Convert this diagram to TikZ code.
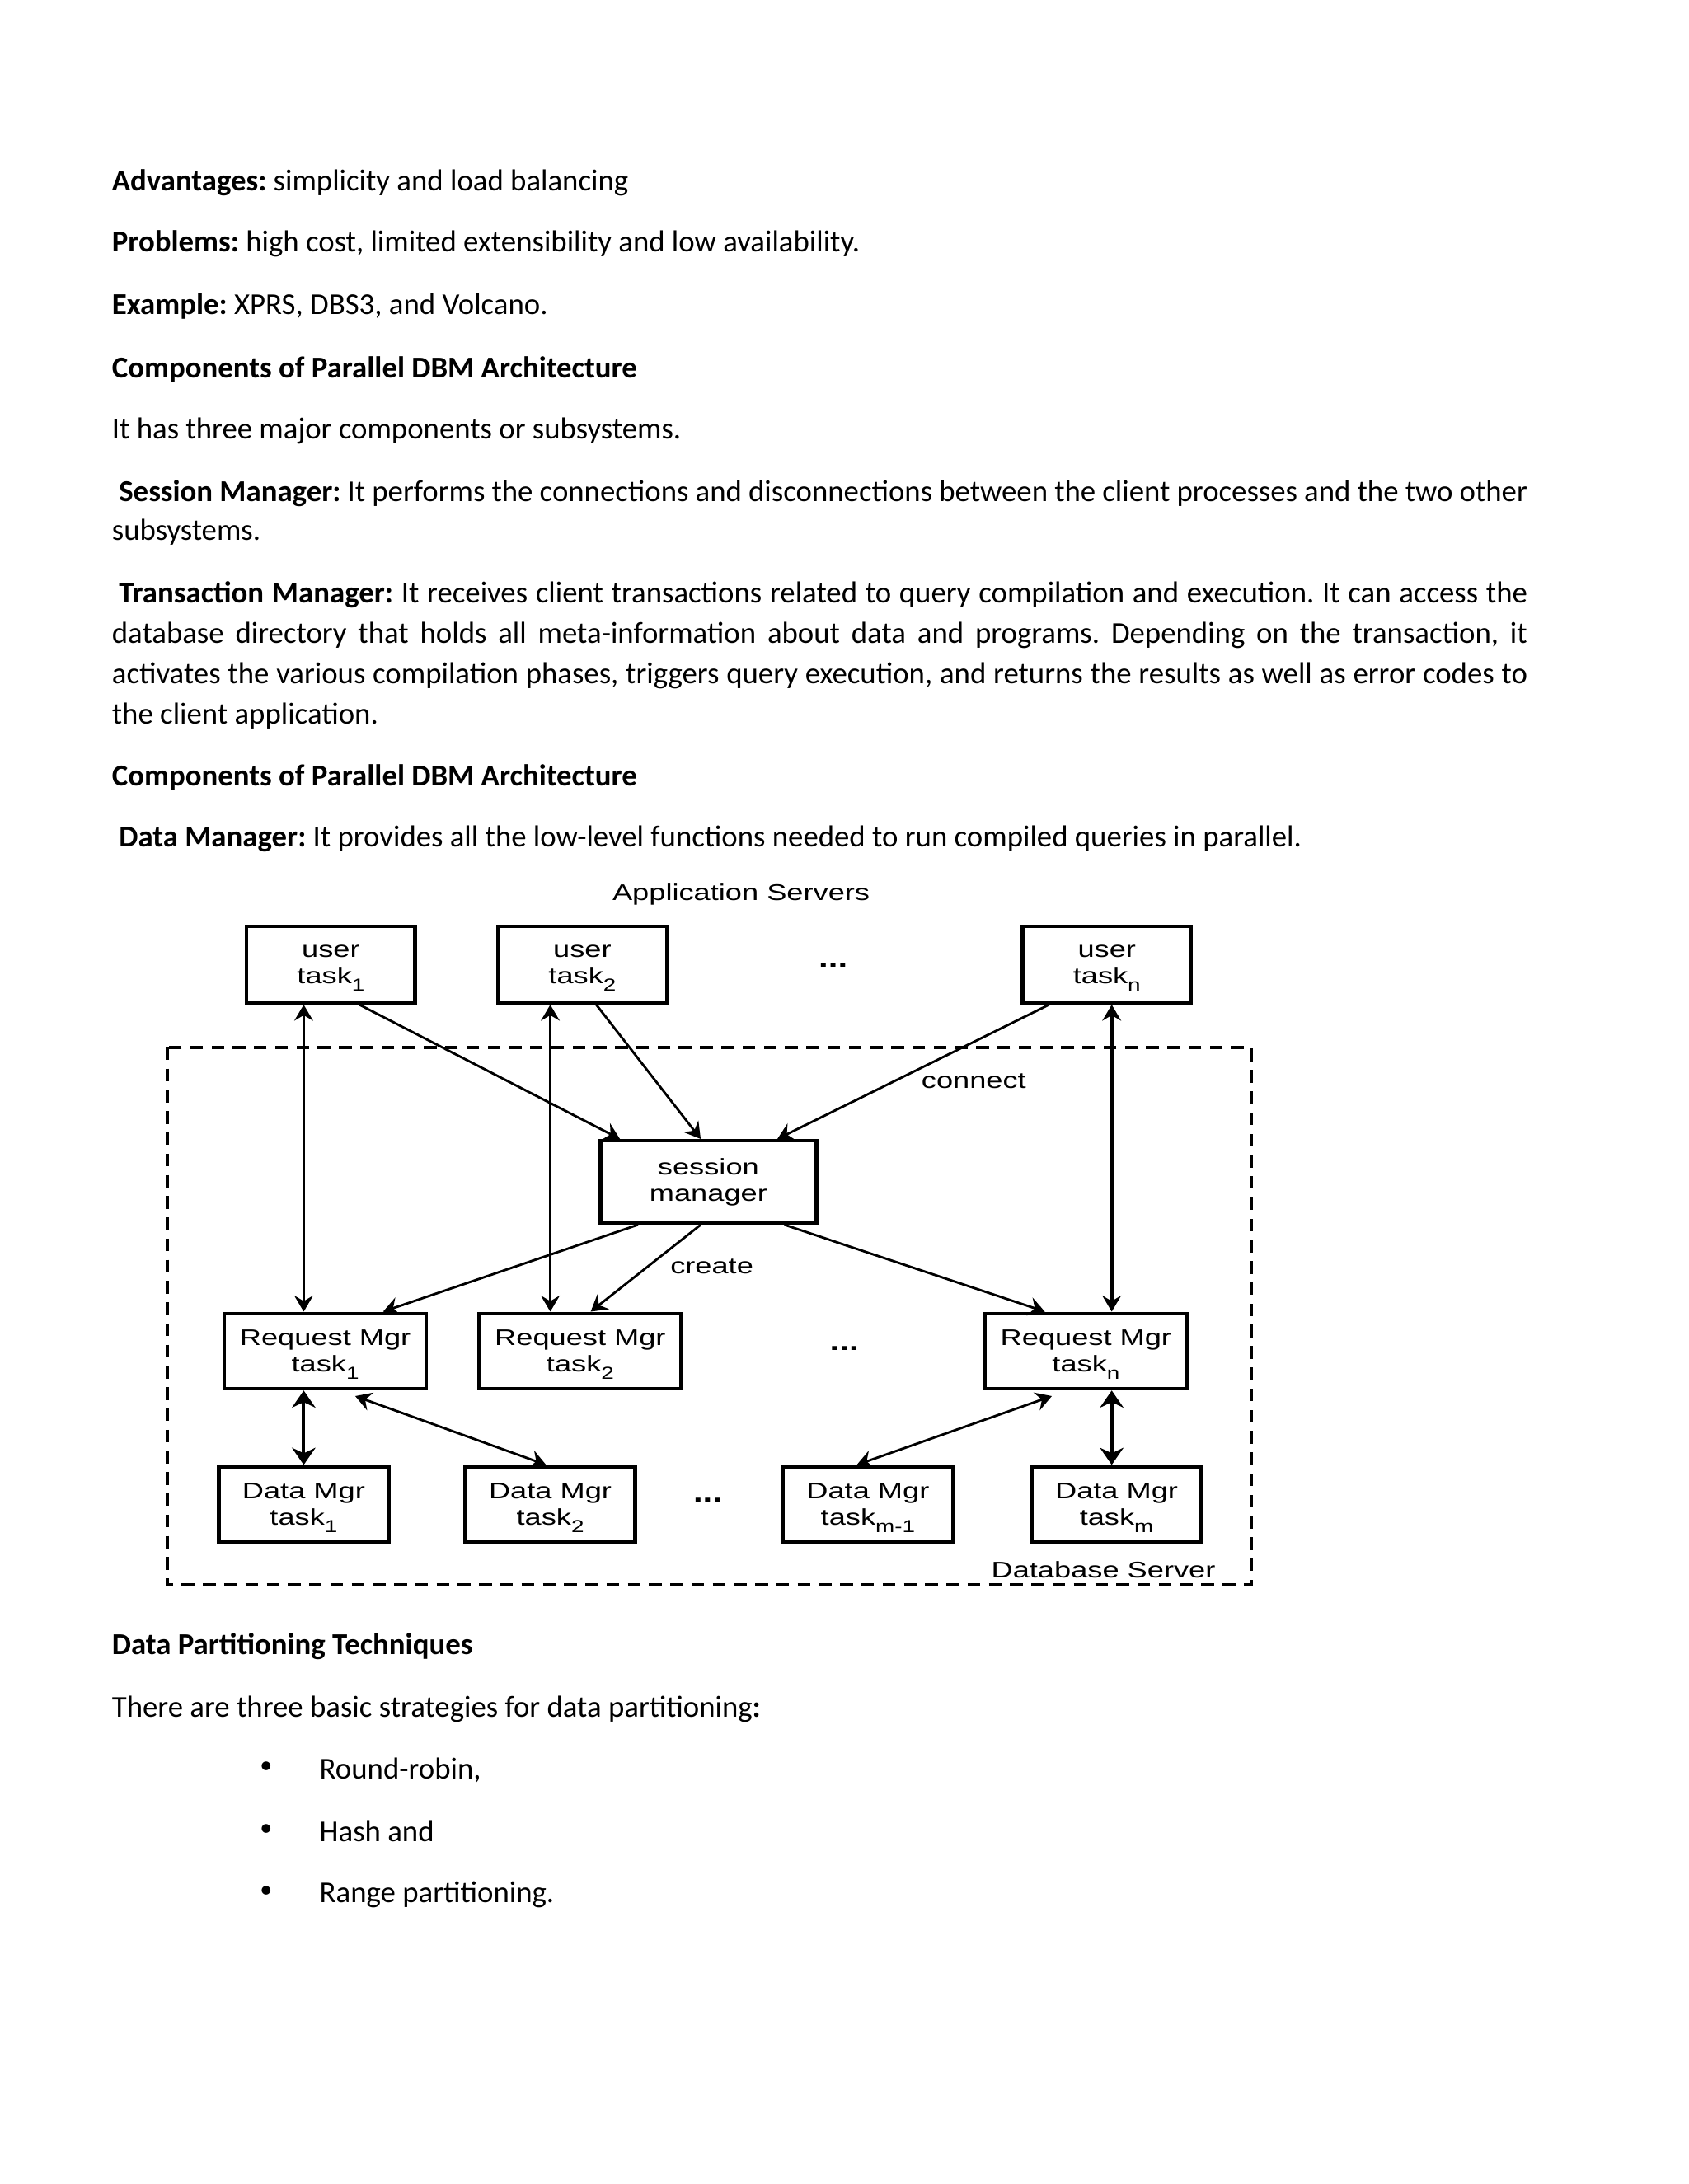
\documentclass[tikz,border=0pt]{standalone}
\usepackage{fontspec}
\setmainfont{Carlito}
\newfontfamily\diagfont[FakeStretch=1.32]{Liberation Sans}
\usetikzlibrary{arrows.meta,positioning,calc}
\newcommand\tsub[1]{\raisebox{-2.8pt}[0pt][0pt]{\fontsize{6.3}{6.3}\selectfont #1}}
\frenchspacing

\begin{document}
\begin{tikzpicture}[x=0.505pt,y=-0.505pt,
    txt/.style={anchor=base west,inner sep=0pt,font=\fontsize{11}{14.5}\selectfont},
    box/.style={draw,line width=1.3pt,inner sep=0pt,align=center,font=\diagfont\fontsize{8.2}{9.5}\selectfont},
    usr/.style={box,minimum width=61.1pt,minimum height=27.8pt},
    reqm/.style={box,minimum width=73.2pt,minimum height=27.3pt},
    datm/.style={box,minimum width=61.6pt,minimum height=27.3pt},
    lbl/.style={inner sep=0pt,font=\diagfont\fontsize{8.2}{9.5}\selectfont},
    dots/.style={inner sep=0pt,font=\diagfont\bfseries\fontsize{9.5}{9.5}\selectfont},
    conn/.style={line width=0.85pt,-{Stealth[length=5.8pt,width=6.8pt,inset=2pt]}},
    biconn/.style={line width=0.85pt,{Stealth[length=5.8pt,width=6.8pt,inset=2pt]}-{Stealth[length=5.8pt,width=6.8pt,inset=2pt]}},
    vlink/.style={line width=1.1pt,{Stealth[length=5.8pt,width=6.8pt,inset=2pt]}-{Stealth[length=5.8pt,width=6.8pt,inset=2pt]}},
    thick link/.style={line width=1.2pt,{Stealth[length=6.2pt,width=8.5pt,inset=2pt]}-{Stealth[length=6.2pt,width=8.5pt,inset=2pt]}},
    frame/.style={line width=1.1pt,dash pattern=on 4.6pt off 3.1pt}]

    % page
    \fill[white] (0,0) rectangle (1212,1568);
    \useasboundingbox (0,0) rectangle (1212,1568);

    % text above the figure
    \node[txt] (adv) at (80,137) {\textbf{Advantages:} simplicity and load balancing};
    \node[txt] (prob) at (80,181) {\textbf{Problems:} high cost, limited extensibility and low availability.};
    \node[txt] (exmp) at (80,226) {\textbf{Example:} XPRS, DBS3, and Volcano.};
    \node[txt] (comp1) at (80,271) {\textbf{Components of Parallel DBM Architecture}};
    \node[txt] (three) at (80,315) {It has three major components or subsystems.};
    \node[txt] (sess1) at (85,360) {\makebox[510.6pt][s]{\textbf{Session Manager:} It performs the connections and disconnections between the client processes and the two other}};
    \node[txt] (sess2) at (80,388) {subsystems.};
    \node[txt] (tran1) at (85,433) {\makebox[510.6pt][s]{\textbf{Transaction Manager:} It receives client transactions related to query compilation and execution. It can access the}};
    \node[txt] (tran2) at (80,462) {\makebox[513.1pt][s]{database directory that holds all meta-information about data and programs. Depending on the transaction, it}};
    \node[txt] (tran3) at (80,491) {\makebox[513.1pt][s]{activates the various compilation phases, triggers query execution, and returns the results as well as error codes to}};
    \node[txt] (tran4) at (80,520) {the client application.};
    \node[txt] (comp2) at (80,564) {\textbf{Components of Parallel DBM Architecture}};
    \node[txt] (dman) at (85,608) {\textbf{Data Manager:} It provides all the low-level functions needed to run compiled queries in parallel.};

    % Application servers
    \node[lbl] (appsrv) at (532,642) {Application Servers};
    \node[usr] (ut1) at (237.5,692.5) {user\\task\tsub{1}};
    \node[usr] (ut2) at (418,692.5) {user\\task\tsub{2}};
    \node[dots] (udots) at (598,693) {...};
    \node[usr] (utn) at (794.5,692.5) {user\\task\tsub{n}};

    % Database server
    \draw[frame] (120,752) rectangle (898,1138);
    \node[box,minimum width=78.3pt,minimum height=29.8pt] (sm) at (508.5,848.5) {session\\manager};
    \node[reqm] (rm1) at (233.5,970) {Request Mgr\\task\tsub{1}};
    \node[reqm] (rm2) at (416.5,970) {Request Mgr\\task\tsub{2}};
    \node[dots] (rdots) at (606,968) {...};
    \node[reqm] (rmn) at (779.5,970) {Request Mgr\\task\tsub{n}};
    \node[datm] (dm1) at (218,1080) {Data Mgr\\task\tsub{1}};
    \node[datm] (dm2) at (395,1080) {Data Mgr\\task\tsub{2}};
    \node[dots] (ddots) at (508,1077) {...};
    \node[datm] (dmm1) at (623,1080) {Data Mgr\\task\tsub{m-1}};
    \node[datm] (dmm) at (801.5,1080) {Data Mgr\\task\tsub{m}};
    \node[lbl] (dbsrv) at (792,1127) {Database Server};
    \node[lbl] (connlbl) at (699,776) {connect};
    \node[lbl] (crealbl) at (511,909) {create};

    % user tasks <-> request managers
    \draw[vlink] ($(ut1.south)+(-19.5,0)$) coordinate (v1) -- (v1 |- rm1.north);
    \draw[vlink] ($(ut2.south)+(-23,0)$) coordinate (v2) -- (v2 |- rm2.north);
    \draw[vlink] ($(utn.south)+(3.5,0)$) coordinate (vn) -- (vn |- rmn.north);

    % connect
    \draw[conn] ($(ut1.south)+(20.5,0)$) -- ($(sm.north)+(-63.5,0)$);
    \draw[conn] ($(ut2.south)+(10,0)$) -- ($(sm.north)+(-5.5,0)$);
    \draw[conn] ($(utn.south)+(-41.5,0)$) -- ($(sm.north)+(49.5,0)$);

    % create
    \draw[conn] ($(sm.south)+(-50.5,0)$) -- ($(rm1.north)+(41.5,0)$);
    \draw[conn] ($(sm.south)+(-5.5,0)$) -- ($(rm2.north)+(7.5,0)$);
    \draw[conn] ($(sm.south)+(54.5,0)$) -- ($(rmn.north)+(-29.5,0)$);

    % request managers <-> data managers
    \draw[thick link] ($(rm1.south)+(-15.5,0)$) -- (dm1.north);
    \draw[biconn] ($(rm1.south)+(21.5,4)$) -- ($(dm2.north)+(-3,0)$);
    \draw[biconn] ($(rmn.south)+(-24.5,4)$) -- ($(dmm1.north)+(-8,0)$);
    \draw[thick link] ($(rmn.south)+(18.5,0)$) coordinate (vm) -- (vm |- dmm.north);

    % text below the figure
    \node[txt] (dpt) at (80,1188) {\textbf{Data Partitioning Techniques}};
    \node[txt] (strat) at (80,1233) {There are three basic strategies for data partitioning\textbf{:}};
    \node[txt,anchor=center,font=\fontsize{9}{9}\selectfont] (b1) at (191,1269) {\textbullet};
    \node[txt] (rr) at (229,1277) {Round-robin,};
    \node[txt,anchor=center,font=\fontsize{9}{9}\selectfont] (b2) at (191,1314) {\textbullet};
    \node[txt] (hash) at (229,1322) {Hash and};
    \node[txt,anchor=center,font=\fontsize{9}{9}\selectfont] (b3) at (191,1358) {\textbullet};
    \node[txt] (range) at (229,1366) {Range partitioning.};
\end{tikzpicture}
\end{document}
